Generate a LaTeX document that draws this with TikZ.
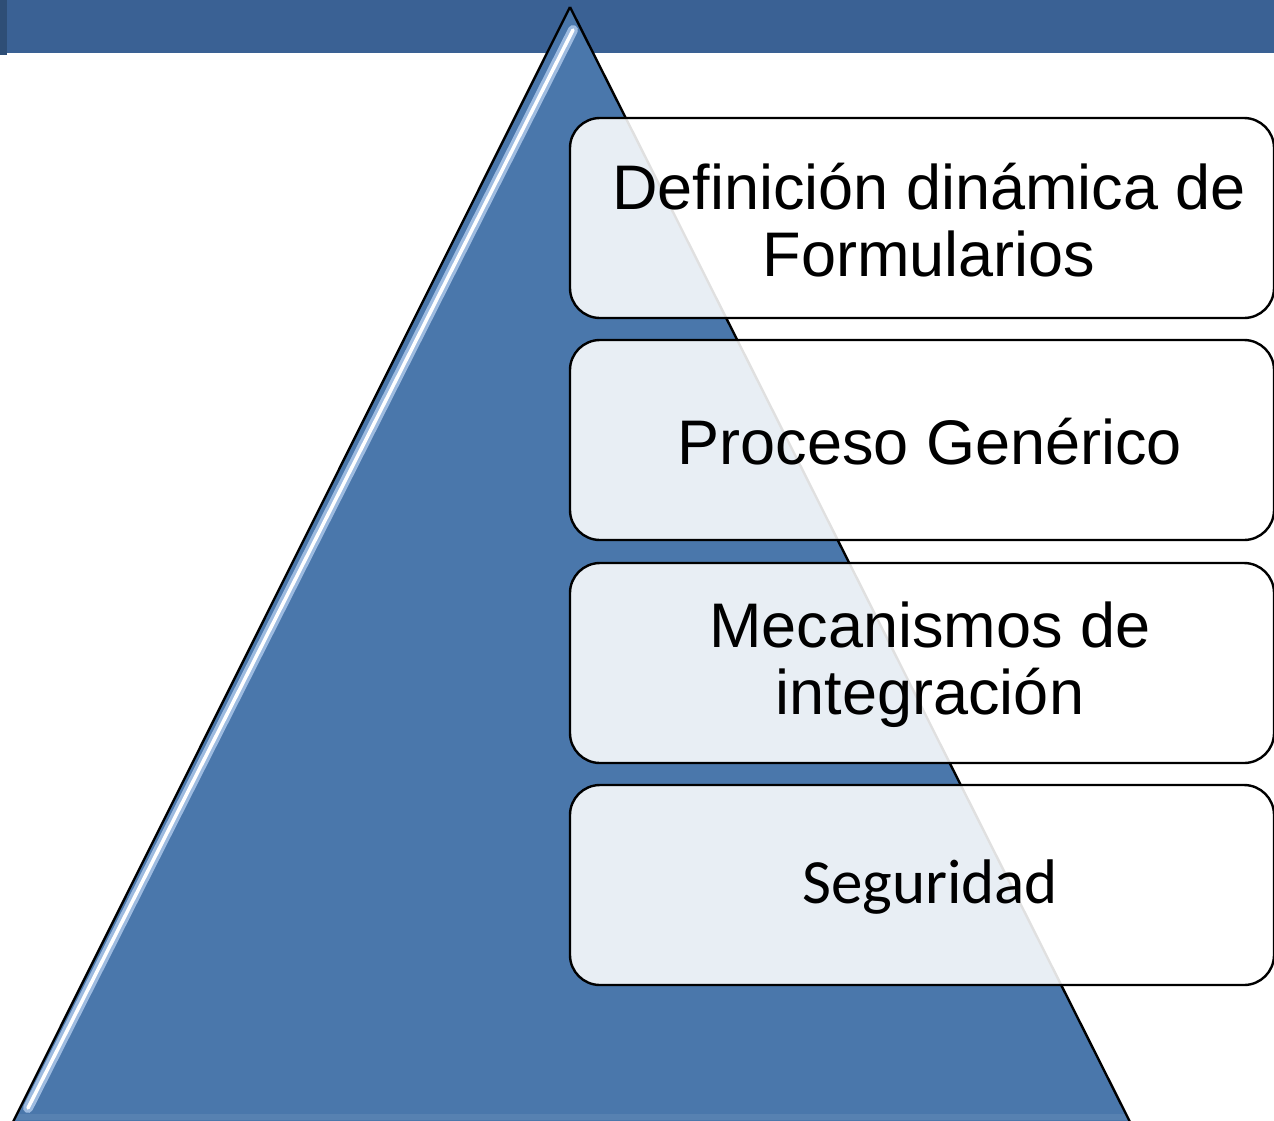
\documentclass[tikz,border=0pt]{standalone}
\usepackage{fontspec}
\newfontfamily\arialf{Liberation Sans}
\newfontfamily\calibrif{Carlito}
\definecolor{bandblue}{HTML}{3A6194}
\definecolor{triblue}{HTML}{4A77AB}
\definecolor{glowblue}{HTML}{9DBBE0}
\tikzset{
  layerbox/.style={draw=black, line width=2.4pt, rounded corners=30pt, fill=white, fill opacity=0.88, text opacity=1, minimum width=704pt, minimum height=200pt, inner sep=0pt},
  layertext/.style={align=center, font=\arialf\fontsize{63}{67}\selectfont, inner sep=0pt},
  edge/.style={draw=black, line width=2.4pt}
}
\begin{document}
\begin{tikzpicture}[x=1pt,y=-1pt]
\useasboundingbox (0,0) rectangle (1274,1120);
% top band
\fill[bandblue] (0,0) rectangle (1274,53);
\fill[bandblue!80!black] (0,0) rectangle (7,55);
% pyramid
\coordinate (apex) at (570,7);
\coordinate (bl) at (13,1122);
\coordinate (br) at (1130,1122);
\fill[triblue] (apex) -- (bl) -- (br) -- cycle;
\fill[triblue!75!white, opacity=0.3] (1128,1120) -- (14,1120) -- (17,1114) -- (1125,1114) -- cycle;
% highlight on left edge
\coordinate (h1) at (573,30);
\coordinate (h2) at (28,1108);
\draw[glowblue, line width=10pt, line cap=round] (h1) -- (h2);
\draw[white, line width=3.5pt, line cap=round] (h1) -- (h2);
\draw[edge] (apex) -- (bl);
\draw[edge] (apex) -- (br);
% boxes
\node[layerbox] (b1) at (922,218) {};
\node[layerbox] (b2) at (922,440) {};
\node[layerbox] (b3) at (922,663) {};
\node[layerbox] (b4) at (922,885) {};
\node[layertext] (t1) at ([xshift=7pt,yshift=-2pt]b1.center) {Definición dinámica de\\Formularios};
\node[layertext] (t2) at ([xshift=8pt,yshift=-2pt]b2.center) {Proceso Genérico};
\node[layertext] (t3) at ([xshift=8pt,yshift=-2pt]b3.center) {Mecanismos de\\integración};
\node[layertext, font=\calibrif\fontsize{63}{67}\selectfont] (t4) at ([xshift=8pt,yshift=-2pt]b4.center) {Seguridad};
\end{tikzpicture}
\end{document}
